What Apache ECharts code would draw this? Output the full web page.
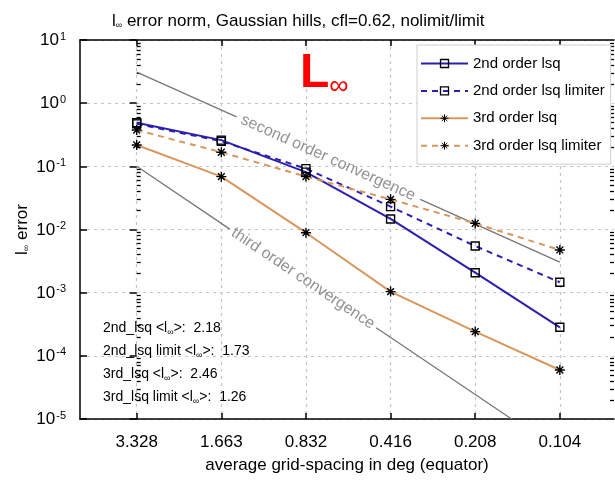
<!DOCTYPE html>
<html><head><meta charset="utf-8">
<script src="https://cdn.jsdelivr.net/npm/echarts@6/dist/echarts.min.js"></script>
<style>html,body{margin:0;padding:0;background:#fff}#c{width:615px;height:483px}</style>
</head><body><div id="c"></div>
<script>
// ---- data ----
const xTickLabels = ['3.328','1.663','0.832','0.416','0.208','0.104'];
const xTickPositions = [0,1,2,3,4,5];
const yTickExponents = [-5,-4,-3,-2,-1,0,1];
const seriesNames = ['2nd order lsq','2nd order lsq limiter','3rd order lsq','3rd order lsq limiter'];
const lsq2 = [0.49, 0.26, 0.081, 0.0147, 0.00207, 0.000283];
const lsq2Limiter = [0.47, 0.25, 0.092, 0.023, 0.00548, 0.00146];
const lsq3 = [0.218, 0.0686, 0.0089, 0.00104, 0.000242, 0.0000597];
const lsq3Limiter = [0.376, 0.167, 0.069, 0.030, 0.0125, 0.00474];
const secondOrderRef = [[0,3.11],[1.18,0.606],[2.26,'-'],[3.35,0.0299],[5,0.00304]];
const thirdOrderRef = [[0,0.1],[1.10,0.01015],[2,'-'],[2.83,0.000278],[4.43,0.00001]];
const convergenceLabels = ['second order convergence','third order convergence'];
const convergenceAnchors = [[2.26,0.136],[1.965,0.00168]];
const convergenceAngles = [-24.2,-33.8];
const annotationNames = ['2nd_lsq','2nd_lsq limit','3rd_lsq','3rd_lsq limit'];
const annotationValues = ['2.18','1.73','2.46','1.26'];

// ---- styling ----
const FONT = '"Liberation Sans", Arial, Helvetica, sans-serif';
const BLUE = '#2c1eae';
const ORANGE = '#d8975e';
const GRAY = '#777777';
const GRID = '#c4c4c4';
const STAR = 'path://M0,5L10,5M5,0L5,10M1.6,1.6L8.4,8.4M1.6,8.4L8.4,1.6';

const majorY = yTickExponents.map(e => Math.pow(10, e));
const minorY = [];
for (let e = -5; e < 1; e++) for (let k = 2; k <= 9; k++) minorY.push(k * Math.pow(10, e));

function mkSeries(name, vals, color, dashed, symbol, size) {
  return {
    name, type: 'line', data: vals.map((v, i) => [xTickPositions[i], v]),
    xAxisIndex: 0, yAxisIndex: 0,
    symbol, symbolSize: size, showSymbol: true,
    lineStyle: { color, width: 2, type: dashed ? [6, 5] : 'solid' },
    itemStyle: { color: 'none', borderColor: '#000', borderWidth: 1.4 },
    z: 5, animation: false
  };
}

const chart = echarts.init(document.getElementById('c'), null, { renderer: 'canvas' });
const logAxisBase = { type: 'log', logBase: 10, min: 1e-5, max: 10, gridIndex: 0 };
const xBase = { type: 'value', min: -0.67, max: 5.64, gridIndex: 0 };

const option = {
  animation: false,
  backgroundColor: '#fff',
  textStyle: { fontFamily: FONT },
  title: {
    text: '{a|l}{s|∞}{a| error norm, Gaussian hills, cfl=0.62, nolimit/limit}',
    left: 107, top: 8,
    textStyle: {
      fontWeight: 'normal',
      rich: {
        a: { fontSize: 17, fontFamily: FONT, color: '#000', fontWeight: 'normal' },
        s: { fontSize: 9, fontFamily: FONT, color: '#000', fontWeight: 'normal', verticalAlign: 'bottom', padding: [8, 0, 0, 0] }
      }
    }
  },
  grid: { left: 80, top: 40, right: 1, bottom: 64, containLabel: false },
  legend: {
    data: seriesNames.map((n, i) => ({ name: n, itemStyle: { borderWidth: i < 2 ? 1.3 : 1 } })),
    orient: 'vertical', left: 417, top: 45,
    padding: [11, 6, 11, 3], itemWidth: 47, itemHeight: 10, itemGap: 12.4,
    backgroundColor: '#fff', borderColor: '#cfcfcf', borderWidth: 1,
    textStyle: { fontSize: 15, color: '#000', fontFamily: FONT },
    z: 10
  },
  xAxis: [
    Object.assign({}, xBase, {
      position: 'bottom',
      name: 'average grid-spacing in deg (equator)', nameLocation: 'middle', nameGap: 38,
      nameMoveOverlap: false,
      nameTextStyle: { fontSize: 17, color: '#000', fontFamily: FONT },
      axisLine: { show: true, lineStyle: { color: '#000', width: 1.5 } },
      axisTick: { show: true, inside: true, length: 6, customValues: xTickPositions, lineStyle: { color: '#000', width: 1.5 } },
      axisLabel: { show: true, customValues: xTickPositions, margin: 15, fontSize: 17, color: '#000', fontFamily: FONT,
        formatter: v => xTickLabels[Math.round(v)] },
      splitLine: { show: true, lineStyle: { color: GRID, type: [3, 4], width: 1.2 } }
    }),
    Object.assign({}, xBase, {
      position: 'top',
      axisLine: { show: true, onZero: false, lineStyle: { color: '#000', width: 1.5 } },
      axisTick: { show: true, inside: true, length: 6, customValues: xTickPositions, lineStyle: { color: '#000', width: 1.5 } },
      axisLabel: { show: false }, splitLine: { show: false }
    })
  ],
  yAxis: [
    Object.assign({}, logAxisBase, {
      position: 'left',
      name: '{l|l}{s|∞}{n| error}', nameLocation: 'middle', nameGap: 49, nameRotate: 90,
      nameMoveOverlap: false,
      nameTextStyle: { rich: {
        l: { fontSize: 17, color: '#000', fontFamily: FONT },
        s: { fontSize: 9, color: '#000', fontFamily: FONT, verticalAlign: 'bottom', padding: [8, 0, 0, 0] },
        n: { fontSize: 17, color: '#000', fontFamily: FONT }
      } },
      axisLine: { show: true, onZero: false, lineStyle: { color: '#000', width: 1.5 } },
      axisTick: { show: true, inside: true, length: 7, customValues: majorY, lineStyle: { color: '#000', width: 1.5 } },
      axisLabel: { show: true, customValues: majorY, margin: 14,
        formatter: v => '{b|10}{s|' + Math.round(Math.log10(v)) + '}',
        rich: {
          b: { fontSize: 17, color: '#000', fontFamily: FONT, verticalAlign: 'bottom' },
          s: { fontSize: 11, color: '#000', fontFamily: FONT, verticalAlign: 'top', padding: [0, 0, 7, 1] }
        } },
      splitLine: { show: true, lineStyle: { color: GRID, type: [3, 4], width: 1.2 } }
    }),
    Object.assign({}, logAxisBase, {
      position: 'left', axisLine: { show: false },
      axisTick: { show: true, inside: true, length: 4, customValues: minorY, lineStyle: { color: '#000', width: 1.3 } },
      axisLabel: { show: false }, splitLine: { show: false }
    }),
    Object.assign({}, logAxisBase, {
      position: 'right', axisLine: { show: false },
      axisTick: { show: true, inside: true, length: 7, customValues: majorY, lineStyle: { color: '#000', width: 1.5 } },
      axisLabel: { show: false }, splitLine: { show: false }
    }),
    Object.assign({}, logAxisBase, {
      position: 'right', axisLine: { show: false },
      axisTick: { show: true, inside: true, length: 4, customValues: minorY, lineStyle: { color: '#000', width: 1.3 } },
      axisLabel: { show: false }, splitLine: { show: false }
    })
  ],
  series: [
    { name: 'second order ref', type: 'line', data: secondOrderRef, symbol: 'none', connectNulls: false,
      lineStyle: { color: GRAY, width: 1.3 }, z: 3, silent: true },
    { name: 'third order ref', type: 'line', data: thirdOrderRef, symbol: 'none', connectNulls: false,
      lineStyle: { color: GRAY, width: 1.3 }, z: 3, silent: true },
    ...convergenceLabels.map((t, i) => ({
      name: 'conv label ' + i, type: 'scatter', data: [convergenceAnchors[i]], symbolSize: 1,
      itemStyle: { color: 'rgba(0,0,0,0)' }, silent: true, z: 4,
      label: { show: true, position: 'inside', formatter: t, rotate: convergenceAngles[i],
        fontSize: 16, color: GRAY, fontFamily: FONT }
    })),
    mkSeries(seriesNames[0], lsq2, BLUE, false, 'rect', 8),
    mkSeries(seriesNames[1], lsq2Limiter, BLUE, true, 'rect', 8),
    mkSeries(seriesNames[2], lsq3, ORANGE, false, STAR, 10),
    mkSeries(seriesNames[3], lsq3Limiter, ORANGE, true, STAR, 10)
  ],
  graphic: [
    { type: 'text', left: 300, top: 50, z: 20,
      style: { text: '{L|L}{i|∞}', rich: {
        L: { fontSize: 48, fontWeight: 'bold', fill: '#ff0000', fontFamily: FONT, verticalAlign: 'bottom' },
        i: { fontSize: 27, fill: '#ff0000', fontFamily: FONT, verticalAlign: 'bottom', padding: [0, 0, -2, 0] }
      } } },
    ...annotationNames.map((n, i) => ({
      type: 'text', left: 103, top: 321 + i * 23, z: 20,
      style: { text: '{t|' + n + ' <l}{s|∞}{t|>:  ' + annotationValues[i] + '}', rich: {
        t: { fontSize: 14, fill: '#000', fontFamily: FONT, verticalAlign: 'bottom' },
        s: { fontSize: 9, fill: '#000', fontFamily: FONT, verticalAlign: 'bottom', padding: [0, 0, -2, 0] }
      } }
    }))
  ]
};
chart.setOption(option);
</script></body></html>
